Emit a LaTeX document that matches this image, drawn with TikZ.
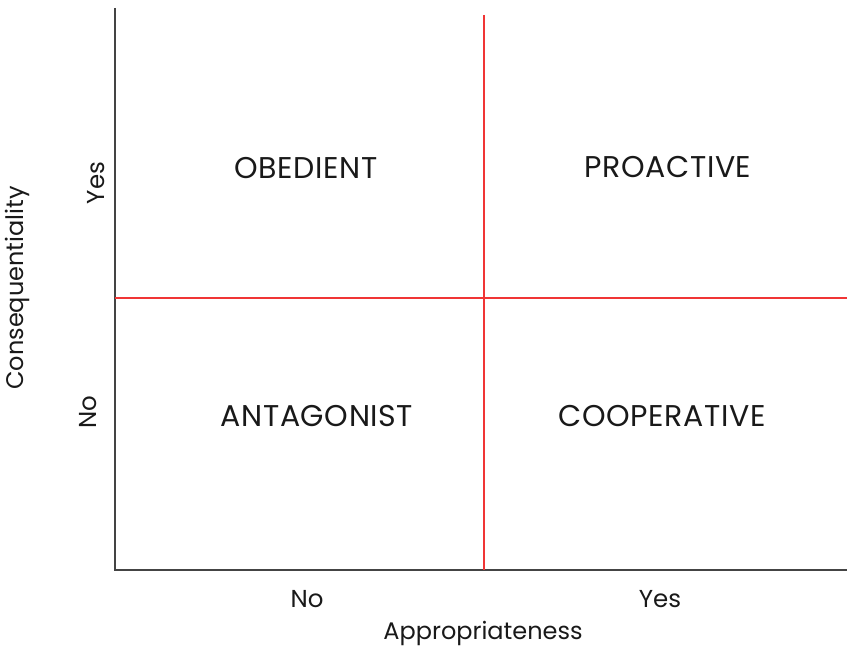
\documentclass[tikz,border=0pt]{standalone}
\usepackage{fontspec}
\setmainfont{Poppins}
\usetikzlibrary{positioning, calc}

\definecolor{axisgray}{HTML}{444444}
\definecolor{splitred}{HTML}{F03535}

\begin{document}
\begin{tikzpicture}[
x=1pt, y=-1pt,
    axis/.style={draw=axisgray, line width=1.6pt},
    split/.style={draw=splitred, line width=1.4pt},
    quadrant/.style={font=\fontsize{30}{36}\selectfont\addfontfeature{LetterSpace=2}, text=black!90},
    tick/.style={font=\fontsize{24.5}{29}\selectfont, text=black!90},
    title/.style={font=\fontsize{24}{29}\selectfont, text=black!90}
]
    \useasboundingbox (0,0) rectangle (847,647);

    % Axes
    \coordinate (origin) at (115,570);
    \coordinate (ytop) at (115,8);
    \coordinate (xend) at (847,570);
    \draw[axis] (ytop) -- (origin) -- (xend);

    % Quadrant split lines
    \coordinate (vtop) at (484,15);
    \coordinate (vbot) at (484,570);
    \coordinate (hleft) at (115,298);
    \coordinate (hright) at (847,298);
    \draw[split] (hleft) -- (hright);
    \draw[split] (vtop) -- (vbot);

    % Quadrants
    \node[quadrant] (obedient) at (306,168) {OBEDIENT};
    \node[quadrant] (proactive) at (668,167) {PROACTIVE};
    \node[quadrant] (antagonist) at (317,416) {ANTAGONIST};
    \node[quadrant] (cooperative) at (662,416) {COOPERATIVE};

    % Tick labels
    \node[tick] (xno) at (307,599) {No};
    \node[tick] (xyes) at (660,599) {Yes};
    \node[tick, rotate=90] (yyes) at (96,183) {Yes};
    \node[tick, rotate=90] (yno) at (88,412) {No};

    % Axis titles
    \node[title] (xtitle) at (483,633) {Appropriateness};
    \node[title, rotate=90] (ytitle) at (17,288) {Consequentiality};
\end{tikzpicture}
\end{document}
